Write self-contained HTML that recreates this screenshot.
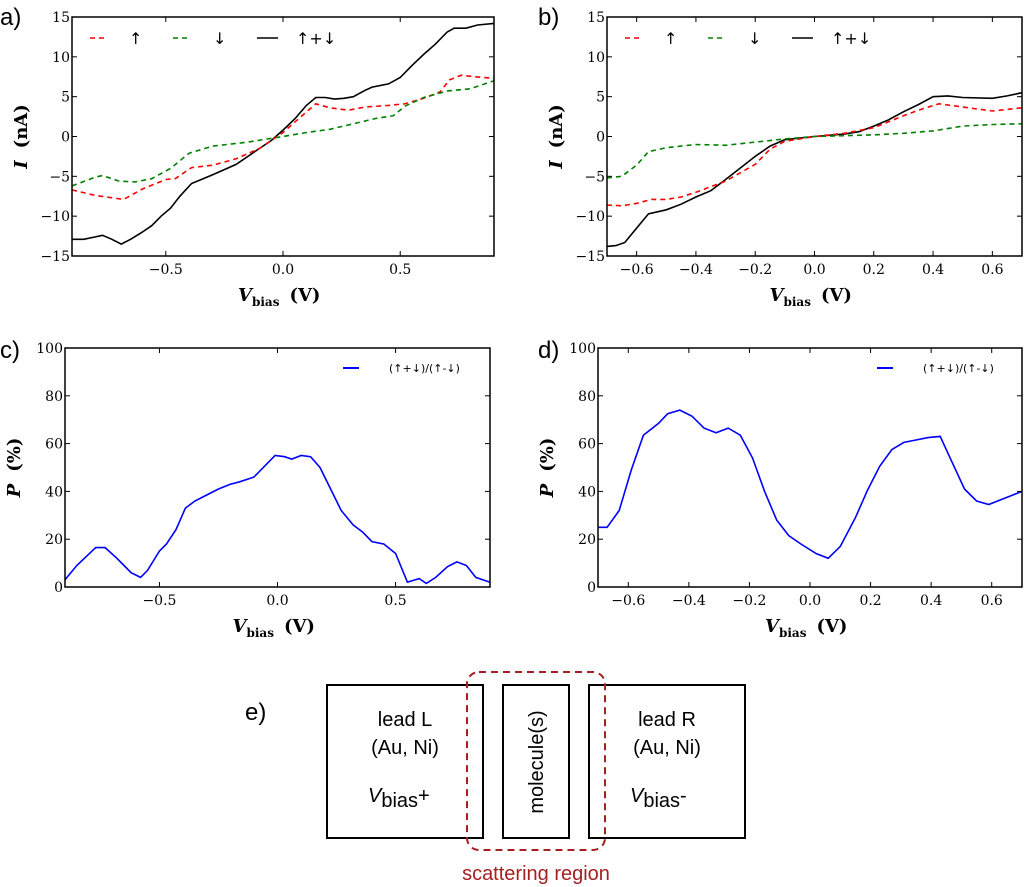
<!DOCTYPE html>
<html><head><meta charset="utf-8"><style>
body{margin:0;background:#fff;width:1024px;height:887px;overflow:hidden}
svg{position:absolute;left:0;top:0}
</style></head><body>
<svg id="s" width="1024" height="887" xmlns="http://www.w3.org/2000/svg"></svg>
<script>
const S=document.getElementById('s');let h='';
function panel(L,R,T,B,x0,x1,y0,y1,xt,yt,series,ylab){
  const X=v=>L+(v-x0)/(x1-x0)*(R-L), Y=v=>B-(v-y0)/(y1-y0)*(B-T);
  series.forEach(s=>{h+=`<polyline fill="none" stroke="${s.c}" stroke-width="${s.w||1.6}" ${s.d?'stroke-dasharray="5,4"':''} points="${s.p.map(q=>X(q[0]).toFixed(1)+','+Y(q[1]).toFixed(1)).join(' ')}"/>`});
  h+=`<rect x="${L}" y="${T}" width="${R-L}" height="${B-T}" fill="none" stroke="#000" stroke-width="1.5"/>`;
  xt.forEach(v=>{const x=X(v);h+=`<line x1="${x}" y1="${T}" x2="${x}" y2="${T+5}" stroke="#000"/><line x1="${x}" y1="${B}" x2="${x}" y2="${B-5}" stroke="#000"/><text x="${x}" y="${B+18}" text-anchor="middle" font-family="DejaVu Serif,Liberation Serif,serif" font-size="14">${(v<0?'−':'')+Math.abs(v).toFixed(1)}</text>`});
  yt.forEach(v=>{const y=Y(v);h+=`<line x1="${L}" y1="${y}" x2="${L+5}" y2="${y}" stroke="#000"/><line x1="${R}" y1="${y}" x2="${R-5}" y2="${y}" stroke="#000"/><text x="${L-2}" y="${y+5}" text-anchor="end" font-family="DejaVu Serif,Liberation Serif,serif" font-size="14">${(v<0?'−':'')+Math.abs(v)}</text>`});
  const cx=(L+R)/2;
  h+=`<text x="${cx-45}" y="${B+45}" font-family="DejaVu Serif,Liberation Serif,serif" font-weight="bold" font-size="18"><tspan font-style="italic">V</tspan><tspan font-size="12" dy="5">bias</tspan><tspan dy="-5" dx="10">(V)</tspan></text>`;
  h+=`<text transform="translate(${L-45},${(T+B)/2}) rotate(-90)" text-anchor="middle" font-family="DejaVu Serif,Liberation Serif,serif" font-weight="bold" font-size="18"><tspan font-style="italic">${ylab[0]}</tspan><tspan dx="12">${ylab[1]}</tspan></text>`;
}
const aK=[[-0.9,-12.9],[-0.85,-12.9],[-0.8,-12.6],[-0.77,-12.4],[-0.73,-12.9],[-0.69,-13.5],[-0.65,-12.9],[-0.6,-12],[-0.56,-11.2],[-0.52,-10],[-0.48,-9],[-0.44,-7.5],[-0.39,-5.9],[-0.3,-4.8],[-0.2,-3.5],[-0.1,-1.5],[-0.05,-0.5],[0,0.8],[0.05,2.2],[0.1,3.9],[0.14,4.9],[0.18,4.9],[0.22,4.7],[0.26,4.8],[0.3,5],[0.35,5.8],[0.38,6.2],[0.45,6.6],[0.5,7.4],[0.55,8.9],[0.6,10.3],[0.65,11.6],[0.7,13.1],[0.73,13.6],[0.78,13.6],[0.83,14.0],[0.9,14.2]];
const aR=[[-0.9,-6.7],[-0.8,-7.4],[-0.68,-7.9],[-0.6,-6.6],[-0.5,-5.4],[-0.46,-5.3],[-0.39,-3.9],[-0.3,-3.6],[-0.2,-2.8],[-0.1,-1.5],[0,0.5],[0.05,1.8],[0.14,4.1],[0.2,3.6],[0.28,3.3],[0.35,3.7],[0.45,3.9],[0.52,4.1],[0.6,4.8],[0.67,5.6],[0.71,7.1],[0.76,7.7],[0.82,7.5],[0.9,7.3]];
const aG=[[-0.9,-6.2],[-0.8,-5.1],[-0.77,-4.9],[-0.7,-5.6],[-0.63,-5.7],[-0.56,-5.3],[-0.48,-4],[-0.4,-2.1],[-0.3,-1.2],[-0.15,-0.7],[0,0],[0.1,0.5],[0.2,0.9],[0.3,1.6],[0.4,2.3],[0.47,2.6],[0.52,3.8],[0.6,4.9],[0.7,5.7],[0.8,6.0],[0.9,7.0]];
const bK=[[-0.7,-13.8],[-0.67,-13.7],[-0.64,-13.3],[-0.6,-11.5],[-0.56,-9.7],[-0.5,-9.2],[-0.45,-8.5],[-0.4,-7.6],[-0.35,-6.8],[-0.3,-5.4],[-0.2,-2.5],[-0.15,-1.2],[-0.1,-0.4],[0,0],[0.1,0.3],[0.15,0.6],[0.2,1.3],[0.25,2.1],[0.3,3.1],[0.35,4],[0.4,5],[0.45,5.1],[0.5,4.9],[0.6,4.8],[0.65,5.1],[0.7,5.5]];
const bR=[[-0.7,-8.6],[-0.65,-8.7],[-0.6,-8.4],[-0.55,-7.9],[-0.5,-7.9],[-0.45,-7.6],[-0.4,-7],[-0.3,-5.6],[-0.2,-3.5],[-0.15,-1.6],[-0.1,-0.6],[0,0],[0.1,0.4],[0.2,1.1],[0.3,2.6],[0.35,3.3],[0.42,4.1],[0.5,3.7],[0.6,3.2],[0.7,3.6]];
const bG=[[-0.7,-5.2],[-0.65,-5],[-0.6,-3.6],[-0.56,-1.9],[-0.5,-1.4],[-0.4,-1],[-0.3,-1.1],[-0.2,-0.7],[-0.1,-0.3],[0,0],[0.2,0.2],[0.3,0.4],[0.4,0.7],[0.5,1.3],[0.6,1.5],[0.7,1.6]];
const cP=[[-0.9,3],[-0.85,9],[-0.77,16.5],[-0.73,16.5],[-0.68,12],[-0.62,6],[-0.58,4],[-0.55,7],[-0.5,15],[-0.47,18],[-0.43,24],[-0.39,33],[-0.35,36],[-0.3,38.5],[-0.25,41],[-0.2,43],[-0.16,44],[-0.1,46],[-0.05,51],[-0.01,55],[0.03,54.5],[0.06,53.5],[0.1,55],[0.14,54.5],[0.18,50],[0.23,40],[0.27,32],[0.32,26],[0.36,23],[0.4,19],[0.45,18],[0.5,14],[0.55,2],[0.6,3.5],[0.63,1.5],[0.67,4],[0.72,8.5],[0.76,10.5],[0.8,9],[0.84,4],[0.9,2]];
const dP=[[-0.7,25],[-0.67,25],[-0.63,32],[-0.59,49],[-0.55,63.5],[-0.5,68.5],[-0.47,72.5],[-0.43,74],[-0.39,71.5],[-0.35,66.5],[-0.31,64.5],[-0.27,66.5],[-0.23,63.5],[-0.19,54],[-0.15,40],[-0.11,28],[-0.07,21.5],[-0.03,18],[0.02,14],[0.06,12],[0.1,17],[0.15,29],[0.19,40.5],[0.23,50.5],[0.27,57.5],[0.31,60.5],[0.35,61.5],[0.39,62.5],[0.43,63],[0.47,52],[0.51,41],[0.55,36],[0.59,34.5],[0.63,36.5],[0.7,40]];
const yI=[-15,-10,-5,0,5,10,15], yP=[0,20,40,60,80,100];
panel(72,494,17,256,-0.9,0.9,-15,15,[-0.5,0,0.5],yI,[{c:'#000',p:aK},{c:'red',p:aR,d:1},{c:'green',p:aG,d:1}],['I','(nA)']);
panel(607,1022,17,256,-0.7,0.7,-15,15,[-0.6,-0.4,-0.2,0,0.2,0.4,0.6],yI,[{c:'#000',p:bK},{c:'red',p:bR,d:1},{c:'green',p:bG,d:1}],['I','(nA)']);
panel(65,490,348,587,-0.9,0.9,0,100,[-0.5,0,0.5],yP,[{c:'blue',p:cP}],['P','(%)']);
panel(598,1022,348,587,-0.7,0.7,0,100,[-0.6,-0.4,-0.2,0,0.2,0.4,0.6],yP,[{c:'blue',p:dP}],['P','(%)']);
function legI(L){const f='font-family="DejaVu Sans,Liberation Sans,sans-serif" font-size="16"';
h+=`<line x1="${L+18}" y1="38" x2="${L+35}" y2="38" stroke="red" stroke-width="1.6" stroke-dasharray="5,4"/><text x="${L+57}" y="44" ${f}>↑</text>
<line x1="${L+101}" y1="38" x2="${L+118}" y2="38" stroke="green" stroke-width="1.6" stroke-dasharray="5,4"/><text x="${L+141}" y="44" ${f}>↓</text>
<line x1="${L+185}" y1="38" x2="${L+206}" y2="38" stroke="#000" stroke-width="1.6"/><text x="${L+224}" y="44" ${f}>↑+↓</text>`}
legI(72);legI(607);
function legP(L){h+=`<line x1="${L}" y1="368" x2="${L+16}" y2="368" stroke="blue" stroke-width="2"/><text x="${L+46}" y="372" font-family="DejaVu Sans,Liberation Sans,sans-serif" font-size="11">(↑+↓)/(↑-↓)</text>`}
legP(343);legP(877);
const pf='font-family="Liberation Sans,DejaVu Sans,sans-serif" font-size="24"';
h+=`<text x="0" y="25" ${pf}>a)</text><text x="538" y="25" ${pf}>b)</text><text x="0" y="358" ${pf}>c)</text><text x="538" y="358" ${pf}>d)</text><text x="245" y="720" ${pf}>e)</text>`;
const tf='font-family="Liberation Sans,DejaVu Sans,sans-serif" font-size="20"';
h+=`<rect x="327" y="685" width="156" height="153" fill="none" stroke="#000" stroke-width="2"/>
<rect x="503" y="685" width="66" height="153" fill="none" stroke="#000" stroke-width="2"/>
<rect x="589" y="685" width="156" height="153" fill="none" stroke="#000" stroke-width="2"/>
<rect x="467" y="672" width="138" height="178" rx="12" fill="none" stroke="#a52020" stroke-width="2" stroke-dasharray="7,5"/>
<text x="405" y="726" text-anchor="middle" ${tf}>lead L</text><text x="405" y="754" text-anchor="middle" ${tf}>(Au, Ni)</text>
<text x="368" y="802" ${tf}><tspan font-style="italic">V</tspan><tspan dy="5">bias</tspan><tspan dy="-5">+</tspan></text>
<text x="667" y="726" text-anchor="middle" ${tf}>lead R</text><text x="667" y="754" text-anchor="middle" ${tf}>(Au, Ni)</text>
<text x="630" y="802" ${tf}><tspan font-style="italic">V</tspan><tspan dy="5">bias</tspan><tspan dy="-5">-</tspan></text>
<text transform="translate(543,762) rotate(-90)" text-anchor="middle" ${tf}>molecule(s)</text>
<text x="536" y="880" text-anchor="middle" fill="#a52020" ${tf} font-size="22">scattering region</text>`;
S.innerHTML=h;
</script>
</body></html>
